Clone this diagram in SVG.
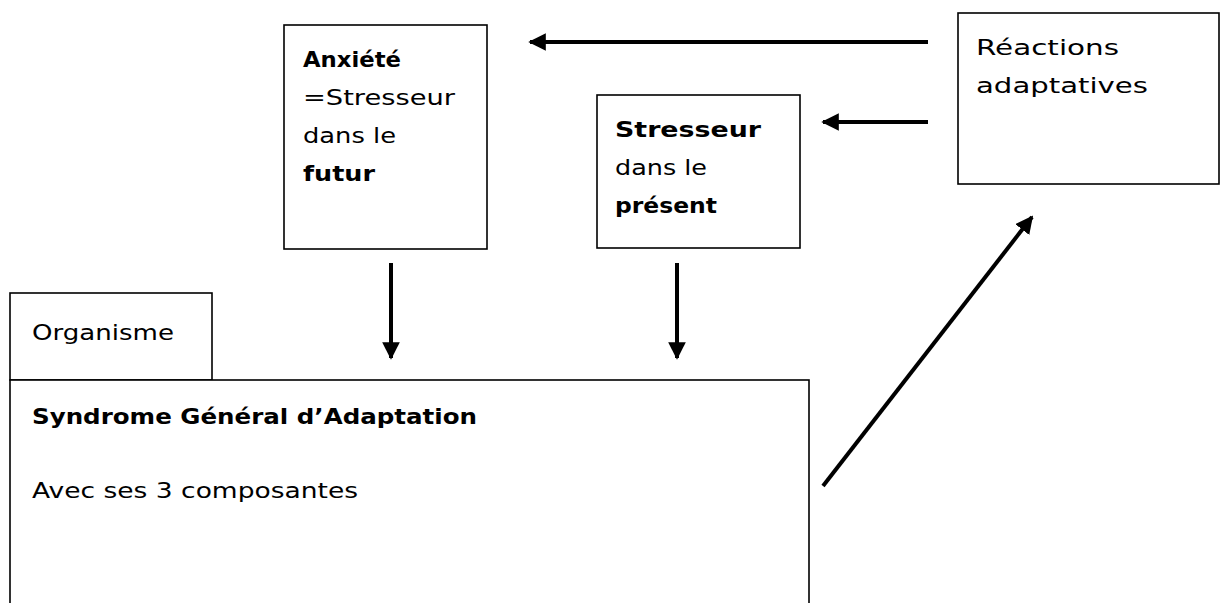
<svg xmlns="http://www.w3.org/2000/svg" width="1224" height="603" viewBox="0 0 1224 603">
<style>
.box{fill:#fff;stroke:#000;stroke-width:1.6}
.t{font-family:"DejaVu Sans","Liberation Sans",sans-serif;font-size:21px;fill:#000}
.b{font-weight:bold}
.arr{stroke:#000;stroke-width:4;fill:none;marker-end:url(#ah)}
</style>
<defs>
<marker id="ah" viewBox="0 0 10 10" refX="9" refY="5" markerWidth="4.4" markerHeight="4.4" markerUnits="strokeWidth" orient="auto">
<path d="M0,0 L10,5 L0,10 z" fill="#000"/>
</marker>
</defs>
<g id="anxiete">
<rect class="box" x="284" y="25" width="203" height="224"/>
<text class="t b" x="303" y="67" textLength="98" lengthAdjust="spacingAndGlyphs">Anxiété</text>
<text class="t" x="303" y="105" textLength="152" lengthAdjust="spacingAndGlyphs">=Stresseur</text>
<text class="t" x="303" y="143" textLength="93" lengthAdjust="spacingAndGlyphs">dans le</text>
<text class="t b" x="303" y="181" textLength="72" lengthAdjust="spacingAndGlyphs">futur</text>
</g>
<g id="stresseur">
<rect class="box" x="597" y="95" width="203" height="153"/>
<text class="t b" x="615" y="137" textLength="146" lengthAdjust="spacingAndGlyphs">Stresseur</text>
<text class="t" x="615" y="175" textLength="92" lengthAdjust="spacingAndGlyphs">dans le</text>
<text class="t b" x="615" y="213" textLength="102" lengthAdjust="spacingAndGlyphs">présent</text>
</g>
<g id="reactions">
<rect class="box" x="958" y="13" width="261" height="171"/>
<text class="t" x="976" y="55" textLength="143" lengthAdjust="spacingAndGlyphs">Réactions</text>
<text class="t" x="976" y="93" textLength="172" lengthAdjust="spacingAndGlyphs">adaptatives</text>
</g>
<g id="organisme">
<rect class="box" x="10" y="293" width="202" height="87"/>
<text class="t" x="32" y="340" textLength="142" lengthAdjust="spacingAndGlyphs">Organisme</text>
</g>
<g id="sga">
<rect class="box" x="10" y="380" width="799" height="240"/>
<text class="t b" x="32" y="424" textLength="445" lengthAdjust="spacingAndGlyphs">Syndrome Général d’Adaptation</text>
<text class="t" x="32" y="498" textLength="326" lengthAdjust="spacingAndGlyphs">Avec ses 3 composantes</text>
</g>
<g id="connectors">
<line class="arr" x1="928" y1="42" x2="530" y2="42"/>
<line class="arr" x1="928" y1="122" x2="823" y2="122"/>
<line class="arr" x1="391" y1="263" x2="391" y2="358"/>
<line class="arr" x1="677" y1="263" x2="677" y2="358"/>
<line class="arr" x1="823" y1="486" x2="1032" y2="217"/>
</g>
</svg>
